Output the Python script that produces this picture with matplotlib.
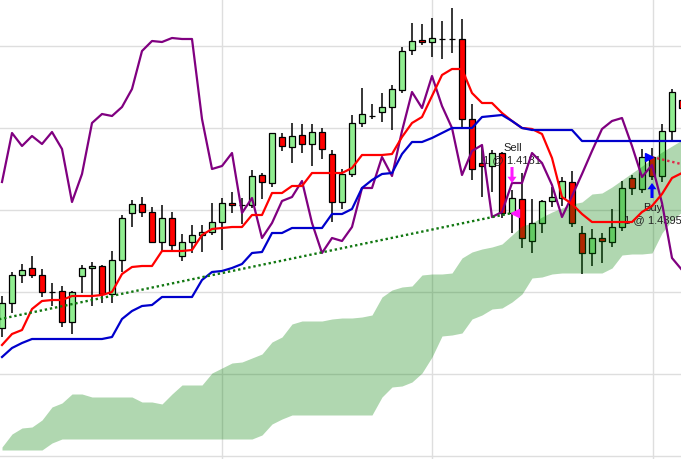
import numpy as np
import matplotlib
matplotlib.use('Agg')
import matplotlib.pyplot as plt

# daily candles (price)
opens = [1.4372, 1.4397, 1.4425, 1.4432, 1.4425, 1.4408, 1.4409, 1.4378, 1.4424, 1.4432,
         1.4434, 1.4406, 1.4440, 1.4487, 1.4496, 1.4488, 1.4458, 1.4482, 1.4444, 1.4458,
         1.4465, 1.4468, 1.4478, 1.4497, 1.4495, 1.4495, 1.4525, 1.4517, 1.4563, 1.4553,
         1.4565, 1.4556, 1.4568, 1.4546, 1.4498, 1.4526, 1.4577, 1.4584, 1.4588, 1.4593,
         1.4610, 1.4650, 1.4660, 1.4658, 1.4661, 1.4661, 1.4661, 1.4581, 1.4537, 1.4534,
         1.4547, 1.4487, 1.4501, 1.4459, 1.4477, 1.4499, 1.4502, 1.4518, 1.4467, 1.4447,
         1.4462, 1.4458, 1.4473, 1.4522, 1.4511, 1.4543, 1.4524, 1.4569, 1.4600]
highs = [1.4404, 1.4428, 1.4436, 1.4444, 1.4431, 1.4417, 1.4414, 1.4409, 1.4435, 1.4438,
         1.4435, 1.4449, 1.4485, 1.4500, 1.4503, 1.4493, 1.4495, 1.4488, 1.4466, 1.4475,
         1.4475, 1.4497, 1.4502, 1.4508, 1.4502, 1.4530, 1.4527, 1.4567, 1.4567, 1.4577,
         1.4576, 1.4576, 1.4572, 1.4550, 1.4531, 1.4585, 1.4612, 1.4596, 1.4607, 1.4615,
         1.4653, 1.4677, 1.4676, 1.4682, 1.4679, 1.4692, 1.4681, 1.4596, 1.4553, 1.4550,
         1.4548, 1.4510, 1.4527, 1.4501, 1.4500, 1.4513, 1.4523, 1.4529, 1.4474, 1.4471,
         1.4467, 1.4491, 1.4519, 1.4525, 1.4551, 1.4552, 1.4576, 1.4611, 1.4605]
lows = [1.4363, 1.4387, 1.4417, 1.4422, 1.4403, 1.4394, 1.4373, 1.4366, 1.4407, 1.4394,
        1.4397, 1.4397, 1.4428, 1.4473, 1.4483, 1.4457, 1.4448, 1.4449, 1.4439, 1.4447,
        1.4448, 1.4465, 1.4450, 1.4487, 1.4476, 1.4492, 1.4501, 1.4513, 1.4549, 1.4537,
        1.4547, 1.4534, 1.4541, 1.4478, 1.4491, 1.4523, 1.4573, 1.4581, 1.4578, 1.4570,
        1.4607, 1.4645, 1.4655, 1.4643, 1.4641, 1.4647, 1.4573, 1.4520, 1.4503, 1.4508,
        1.4482, 1.4467, 1.4452, 1.4447, 1.4467, 1.4493, 1.4494, 1.4473, 1.4426, 1.4434,
        1.4437, 1.4453, 1.4469, 1.4505, 1.4507, 1.4520, 1.4518, 1.4558, 1.4588]
closes = [1.4397, 1.4425, 1.4430, 1.4425, 1.4408, 1.4408, 1.4378, 1.4408, 1.4432, 1.4434,
          1.4406, 1.4440, 1.4482, 1.4496, 1.4488, 1.4458, 1.4482, 1.4455, 1.4458, 1.4465,
          1.4468, 1.4478, 1.4497, 1.4495, 1.4495, 1.4524, 1.4518, 1.4567, 1.4554, 1.4564,
          1.4556, 1.4568, 1.4551, 1.4498, 1.4526, 1.4577, 1.4586, 1.4584, 1.4593, 1.4611,
          1.4649, 1.4659, 1.4658, 1.4662, 1.4661, 1.4661, 1.4581, 1.4531, 1.4534, 1.4547,
          1.4487, 1.4502, 1.4462, 1.4477, 1.4499, 1.4503, 1.4519, 1.4477, 1.4447, 1.4462,
          1.4459, 1.4473, 1.4512, 1.4512, 1.4543, 1.4524, 1.4569, 1.4608, 1.4592]

# ichimoku lines
tenkan = [1.4355, 1.4366, 1.4370, 1.4391, 1.4399, 1.4400, 1.4400, 1.4404, 1.4404, 1.4404,
          1.4405, 1.4408, 1.4426, 1.4433, 1.4434, 1.4434, 1.4449, 1.4449, 1.4449, 1.4450,
          1.4465, 1.4471, 1.4472, 1.4473, 1.4473, 1.4485, 1.4485, 1.4507, 1.4507, 1.4514,
          1.4514, 1.4527, 1.4527, 1.4527, 1.4527, 1.4532, 1.4545, 1.4545, 1.4545, 1.4546,
          1.4563, 1.4577, 1.4583, 1.4604, 1.4625, 1.4631, 1.4631, 1.4607, 1.4597, 1.4597,
          1.4587, 1.4579, 1.4572, 1.4571, 1.4566, 1.4542, 1.4503, 1.4496, 1.4486, 1.4478,
          1.4478, 1.4478, 1.4478, 1.4478, 1.4488, 1.4494, 1.4506, 1.4522, 1.4527]
kijun = [1.4343, 1.4352, 1.4357, 1.4361, 1.4361, 1.4361, 1.4361, 1.4361, 1.4361, 1.4361,
         1.4361, 1.4363, 1.4381, 1.4389, 1.4394, 1.4395, 1.4403, 1.4403, 1.4403, 1.4403,
         1.4420, 1.4428, 1.4429, 1.4432, 1.4436, 1.4447, 1.4448, 1.4467, 1.4467, 1.4472,
         1.4472, 1.4472, 1.4472, 1.4486, 1.4486, 1.4491, 1.4512, 1.4520, 1.4526, 1.4527,
         1.4546, 1.4558, 1.4558, 1.4562, 1.4567, 1.4572, 1.4572, 1.4572, 1.4583, 1.4584,
         1.4585, 1.4579, 1.4572, 1.4570, 1.4570, 1.4570, 1.4570, 1.4570, 1.4559, 1.4559,
         1.4559, 1.4559, 1.4559, 1.4559, 1.4559, 1.4559, 1.4559, 1.4559, 1.4559]
chikou = [1.4518, 1.4567, 1.4554, 1.4564, 1.4556, 1.4568, 1.4551, 1.4498, 1.4526, 1.4577,
          1.4586, 1.4584, 1.4593, 1.4611, 1.4649, 1.4659, 1.4658, 1.4662, 1.4661, 1.4661,
          1.4581, 1.4531, 1.4534, 1.4547, 1.4487, 1.4502, 1.4462, 1.4477, 1.4499, 1.4503,
          1.4519, 1.4477, 1.4447, 1.4462, 1.4459, 1.4473, 1.4512, 1.4512, 1.4543, 1.4524,
          1.4569, 1.4608, 1.4592, 1.4624, 1.4594, 1.4572, 1.4525, 1.4549, 1.4555, 1.4483,
          1.4488, 1.4517, 1.4517, 1.4547, 1.4537, 1.4515, 1.4483, 1.4504, 1.4526, 1.4549,
          1.4571, 1.4579, 1.4582, 1.4554, 1.4523, 1.4535, 1.4497, 1.4442, 1.4430]
span_a = [1.4253, 1.4266, 1.4272, 1.4273, 1.4280, 1.4293, 1.4297, 1.4306, 1.4306, 1.4303,
          1.4303, 1.4303, 1.4303, 1.4303, 1.4298, 1.4298, 1.4296, 1.4306, 1.4315, 1.4315,
          1.4315, 1.4327, 1.4332, 1.4337, 1.4338, 1.4342, 1.4346, 1.4358, 1.4363, 1.4376,
          1.4379, 1.4379, 1.4379, 1.4381, 1.4382, 1.4382, 1.4383, 1.4385, 1.4403, 1.4410,
          1.4413, 1.4414, 1.4425, 1.4426, 1.4426, 1.4427, 1.4442, 1.4448, 1.4451, 1.4453,
          1.4456, 1.4465, 1.4474, 1.4477, 1.4483, 1.4488, 1.4492, 1.4496, 1.4498, 1.4506,
          1.4507, 1.4513, 1.4520, 1.4527, 1.4534, 1.4541, 1.4548, 1.4554, 1.4560]
span_b = [1.4250, 1.4250, 1.4250, 1.4250, 1.4250, 1.4257, 1.4261, 1.4261, 1.4261, 1.4261,
          1.4261, 1.4261, 1.4261, 1.4261, 1.4261, 1.4261, 1.4261, 1.4261, 1.4261, 1.4261,
          1.4261, 1.4261, 1.4261, 1.4261, 1.4261, 1.4261, 1.4265, 1.4276, 1.4281, 1.4285,
          1.4285, 1.4285, 1.4285, 1.4285, 1.4285, 1.4285, 1.4285, 1.4285, 1.4303, 1.4313,
          1.4314, 1.4318, 1.4327, 1.4343, 1.4364, 1.4365, 1.4367, 1.4381, 1.4385, 1.4391,
          1.4392, 1.4398, 1.4406, 1.4422, 1.4423, 1.4426, 1.4427, 1.4427, 1.4427, 1.4427,
          1.4427, 1.4432, 1.4445, 1.4446, 1.4446, 1.4447, 1.4467, 1.4480, 1.4488]

# trades
closed_trade_x = [-5, 51]
closed_trade_y = [1.4371, 1.4487]
open_trade_x = [65, 70]
open_trade_y = [1.4543, 1.4531]
sell_bar, sell_label = 51, '1 @ 1.4181'
buy_bar, buy_label = 65, '1 @ 1.4395'

grid_x = [22, 43, 65.1]
grid_y = [1.4244, 1.4326, 1.4408, 1.4490, 1.4572, 1.4654]

o = np.array(opens)
c = np.array(closes)
x = np.arange(len(closes))

fig = plt.figure(figsize=(6.81, 4.59), dpi=100)
ax = fig.add_axes([0, 0, 1, 1])
ax.set_xlim(-0.2, 67.9)
ax.set_ylim(1.4241, 1.4700)
ax.set_xticks(grid_x)
ax.set_yticks(grid_y)
ax.grid(True, color='#dedede', lw=1.0)
ax.set_axisbelow(True)
ax.tick_params(length=0, labelbottom=False, labelleft=False)
for s in ax.spines.values():
    s.set_visible(False)

# candles
up = c >= o
ax.vlines(x, lows, highs, color='black', lw=1.1, zorder=2)
ax.bar(x, np.abs(c - o), bottom=np.minimum(o, c), width=0.65,
       color=np.where(up, '#90ee90', '#ff0000'), edgecolor='black', linewidth=0.9, zorder=2.5)

# cloud over the candles
ax.fill_between(x, span_a, span_b, color='green', alpha=0.31, lw=0, zorder=3)

ax.plot(x, chikou, color='#800080', lw=1.6, zorder=4)
ax.plot(x, tenkan, color='#ff0000', lw=1.6, zorder=4)
ax.plot(x, kijun, color='#0000cc', lw=1.6, zorder=4)

ax.plot(closed_trade_x, closed_trade_y, color='#117711', lw=1.7, ls=(0, (1, 1.2)), zorder=5)
ax.plot(open_trade_x, open_trade_y, color='#e02848', lw=1.7, ls=(0, (1, 1.2)), zorder=5)

# signal markers
ax.annotate('', xy=(sell_bar, 1.4517), xytext=(sell_bar, 1.4533),
            arrowprops=dict(arrowstyle='simple,head_length=0.45,head_width=0.65,tail_width=0.22',
                            color='#ff1aff', lw=0, shrinkA=0, shrinkB=0), zorder=6)
ax.plot(sell_bar + 0.3, 1.44865, marker='<', color='#ff1aff', ms=5.5, zorder=6)
ax.annotate('', xy=(buy_bar, 1.4517), xytext=(buy_bar, 1.4502),
            arrowprops=dict(arrowstyle='simple,head_length=0.45,head_width=0.65,tail_width=0.22',
                            color='#0000ff', lw=0, shrinkA=0, shrinkB=0), zorder=6)
ax.plot(buy_bar - 0.3, 1.4543, marker='>', color='#0000ff', ms=5.5, zorder=6)

font = dict(ha='center', va='center', fontsize=8, family='Liberation Sans', color='#222222', zorder=3.5)
ax.text(sell_bar + 0.05, 1.4552, 'Sell', **font)
ax.text(sell_bar + 0.05, 1.4540, sell_label, **font)
ax.text(buy_bar + 0.05, 1.4492, 'Buy', **font)
ax.text(buy_bar + 0.05, 1.4480, buy_label, **font)

fig.savefig('out.png', dpi=100)
